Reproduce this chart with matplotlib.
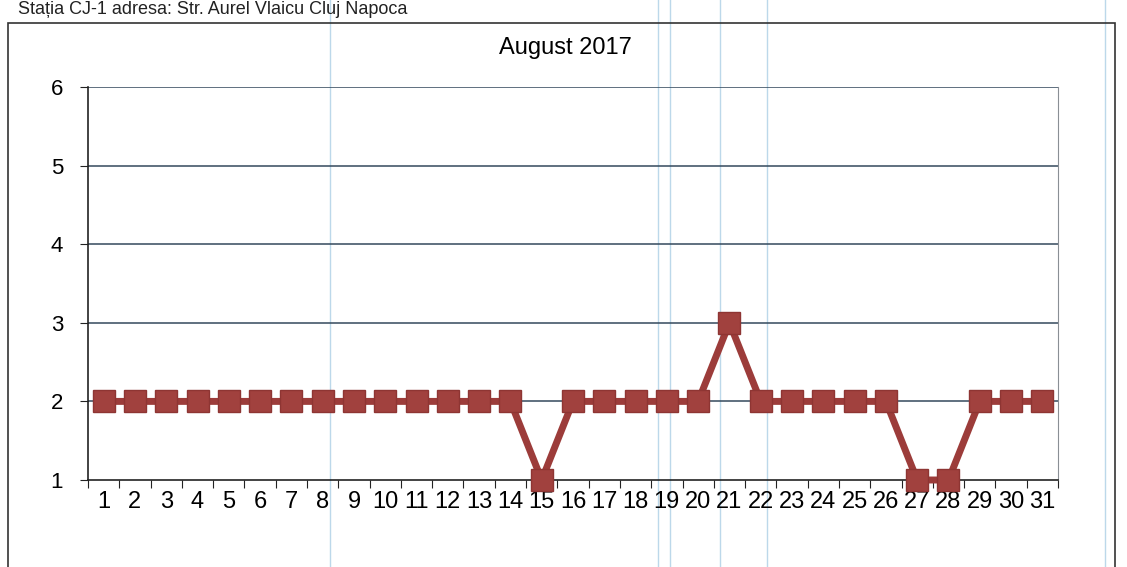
import matplotlib.pyplot as plt
from matplotlib.patches import Rectangle
from matplotlib.lines import Line2D

plt.rcParams['font.family'] = ['Liberation Sans', 'DejaVu Sans']

# Valori zilnice, august 2017
days = list(range(1, 32))
values = [2, 2, 2, 2, 2, 2, 2, 2, 2, 2, 2, 2, 2, 2, 1,
          2, 2, 2, 2, 2, 3, 2, 2, 2, 2, 2, 1, 1, 2, 2, 2]
y_ticks = [1, 2, 3, 4, 5, 6]

W, H = 1127, 567
fig = plt.figure(figsize=(W / 100, H / 100), dpi=100)

# antetul paginii scanate
fig.text(18 / W, 1 - 1 / H, 'Stația CJ-1 adresa: Str. Aurel Vlaicu Cluj Napoca',
         fontsize=13, ha='left', va='top', color='#222222')

# chenarul exterior al graficului
fig.patches.append(Rectangle((8 / W, -0.05), (1115 - 8) / W, 1 - 23 / H + 0.05,
                             transform=fig.transFigure, fill=False,
                             edgecolor='#333333', linewidth=1.2))

# linii verticale slabe din scanare
for px in [330, 658, 670, 720, 767, 1105]:
    fig.add_artist(Line2D([px / W, px / W], [0, 1], transform=fig.transFigure,
                          color='#bcd8ea', linewidth=1, zorder=0))

ax = fig.add_axes([88 / W, 87 / H, (1058 - 88) / W, (480 - 87) / H])
ax.patch.set_alpha(0)

ax.plot(days, values, color='#9c3c3a', linewidth=5, marker='s',
        markersize=16.5, markerfacecolor='#a1413e', markeredgecolor='#8e3533',
        zorder=3, clip_on=False)

ax.set_xlim(0.5, 31.5)
ax.set_ylim(1, 6)
ax.set_yticks(y_ticks)
ax.set_yticklabels([str(v) for v in y_ticks], fontsize=16)

ax.set_xticks([d + 0.5 for d in range(0, 32)])
ax.set_xticklabels([])
ax.set_xticks(days, minor=True)
ax.set_xticklabels([str(d) for d in days], minor=True, fontsize=17)
ax.tick_params(axis='x', which='major', direction='out', length=6, color='#222222')
ax.tick_params(axis='x', which='minor', length=0, pad=8)
ax.tick_params(axis='y', direction='out', length=6, pad=12, color='#222222')

for v in y_ticks[1:]:
    ax.axhline(v, color='#34495c', linewidth=1.1, zorder=1)

ax.spines['top'].set_visible(False)
ax.spines['right'].set_color('#8a8f95')
ax.spines['left'].set_color('#222222')
ax.spines['bottom'].set_color('#222222')
ax.spines['left'].set_linewidth(1.2)
ax.spines['bottom'].set_linewidth(1.2)

fig.text(565 / W, 1 - 48 / H, 'August 2017', fontsize=17, ha='center', va='center')

fig.savefig('out.png', dpi=100)
